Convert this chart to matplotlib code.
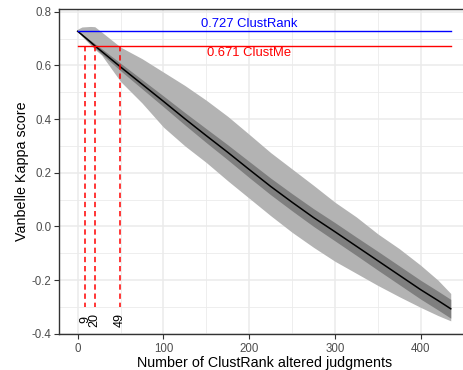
import matplotlib
matplotlib.use('Agg')
import matplotlib.pyplot as plt
from matplotlib.ticker import MultipleLocator

plt.rcParams['font.family'] = ['Liberation Sans', 'DejaVu Sans']

# values
n_altered = [0, 5, 15, 20, 28, 50, 75, 100, 125, 150, 175, 200, 225, 250, 275, 300, 325, 350, 375, 400, 420, 435]
kappa_mean = [0.727, 0.714, 0.687, 0.673, 0.652, 0.594, 0.530, 0.466, 0.401, 0.338, 0.276, 0.212,
              0.149, 0.090, 0.033, -0.020, -0.074, -0.128, -0.182, -0.236, -0.276, -0.307]
kappa_max = [0.735, 0.743, 0.745, 0.744, 0.724, 0.668, 0.625, 0.575, 0.525, 0.470, 0.410, 0.343,
             0.275, 0.214, 0.153, 0.090, 0.035, -0.028, -0.083, -0.145, -0.200, -0.250]
kappa_min = [0.727, 0.708, 0.676, 0.660, 0.638, 0.540, 0.460, 0.370, 0.300, 0.238, 0.170, 0.105,
             0.040, -0.022, -0.078, -0.130, -0.175, -0.220, -0.262, -0.302, -0.332, -0.352]
kappa_hi = [0.727, 0.717, 0.693, 0.681, 0.662, 0.608, 0.547, 0.486, 0.424, 0.364, 0.304, 0.242,
            0.180, 0.122, 0.066, 0.014, -0.040, -0.093, -0.147, -0.201, -0.241, -0.272]
kappa_lo = [0.727, 0.711, 0.681, 0.665, 0.642, 0.580, 0.513, 0.446, 0.378, 0.312, 0.248, 0.182,
            0.118, 0.058, 0.000, -0.054, -0.108, -0.163, -0.217, -0.271, -0.311, -0.342]

clustrank_score = 0.727
clustme_score = 0.671
cross_points = [9, 20, 49]
cross_labels = ['9', '20', '49']

fig = plt.figure(figsize=(4.63, 3.70), dpi=100)
# panel runs a bit past the right edge of the picture, as in the reference
ax = fig.add_axes([59 / 463, 36 / 370, 410.4 / 463, 325 / 370])

ax.fill_between(n_altered, kappa_min, kappa_max, color='#B3B3B3', linewidth=0, zorder=2)
ax.fill_between(n_altered, kappa_lo, kappa_hi, color='#7F7F7F', linewidth=0, zorder=3)
ax.plot(n_altered, kappa_mean, color='black', linewidth=1.1, zorder=4)

x_end = n_altered[-1]
ax.plot([0, x_end], [clustrank_score, clustrank_score], color='#0000FF', linewidth=1.0, zorder=5)
ax.plot([0, x_end], [clustme_score, clustme_score], color='#FF0000', linewidth=1.0, zorder=5)
ax.text(200, clustrank_score + 0.004, '%.3f ClustRank' % clustrank_score, color='#0000FF',
        fontsize=9.4, ha='center', va='bottom', zorder=6)
ax.text(200, clustme_score - 0.003, '%.3f ClustMe' % clustme_score, color='#FF0000',
        fontsize=9.4, ha='center', va='top', zorder=6)

for xv, lab in zip(cross_points, cross_labels):
    ax.plot([xv, xv], [clustme_score, -0.30], color='#FF0000', linewidth=1.1,
            linestyle=(0, (3.5, 2.5)), zorder=5)
    ax.text(xv, -0.347, lab, rotation=90, fontsize=9.0, ha='center', va='center', color='black')

ax.set_xlim(-21.75, 456.75)
ax.set_ylim(-0.401, 0.81)
ax.xaxis.set_major_locator(MultipleLocator(100))
ax.xaxis.set_minor_locator(MultipleLocator(50))
ax.yaxis.set_minor_locator(MultipleLocator(0.1))
ax.set_yticks([0.8, 0.6, 0.4, 0.2, 0.0, -0.2, -0.4])
ax.set_yticklabels(['0.8', '0.6', '0.4', '0.2', '0.0', '-0.2', '-0.4'])

ax.grid(which='major', color='#EBEBEB', linewidth=1.1, zorder=0)
ax.grid(which='minor', color='#EBEBEB', linewidth=0.6, zorder=0)
ax.set_axisbelow(True)

for side in ['left', 'bottom', 'top']:
    ax.spines[side].set_color('#333333')
    ax.spines[side].set_linewidth(1.0)
ax.spines['right'].set_visible(False)

ax.tick_params(which='major', length=3.5, width=0.8, color='#333333', labelcolor='#4D4D4D',
               labelsize=8.3)
ax.tick_params(axis='x', pad=3)
ax.tick_params(axis='y', pad=2)
ax.tick_params(which='minor', length=0)

ax.set_xlabel('Number of ClustRank altered judgments', fontsize=10.3, labelpad=0.5)
ax.set_ylabel('Vanbelle Kappa score', fontsize=10.3, labelpad=2)

fig.savefig('out.png', dpi=100)
